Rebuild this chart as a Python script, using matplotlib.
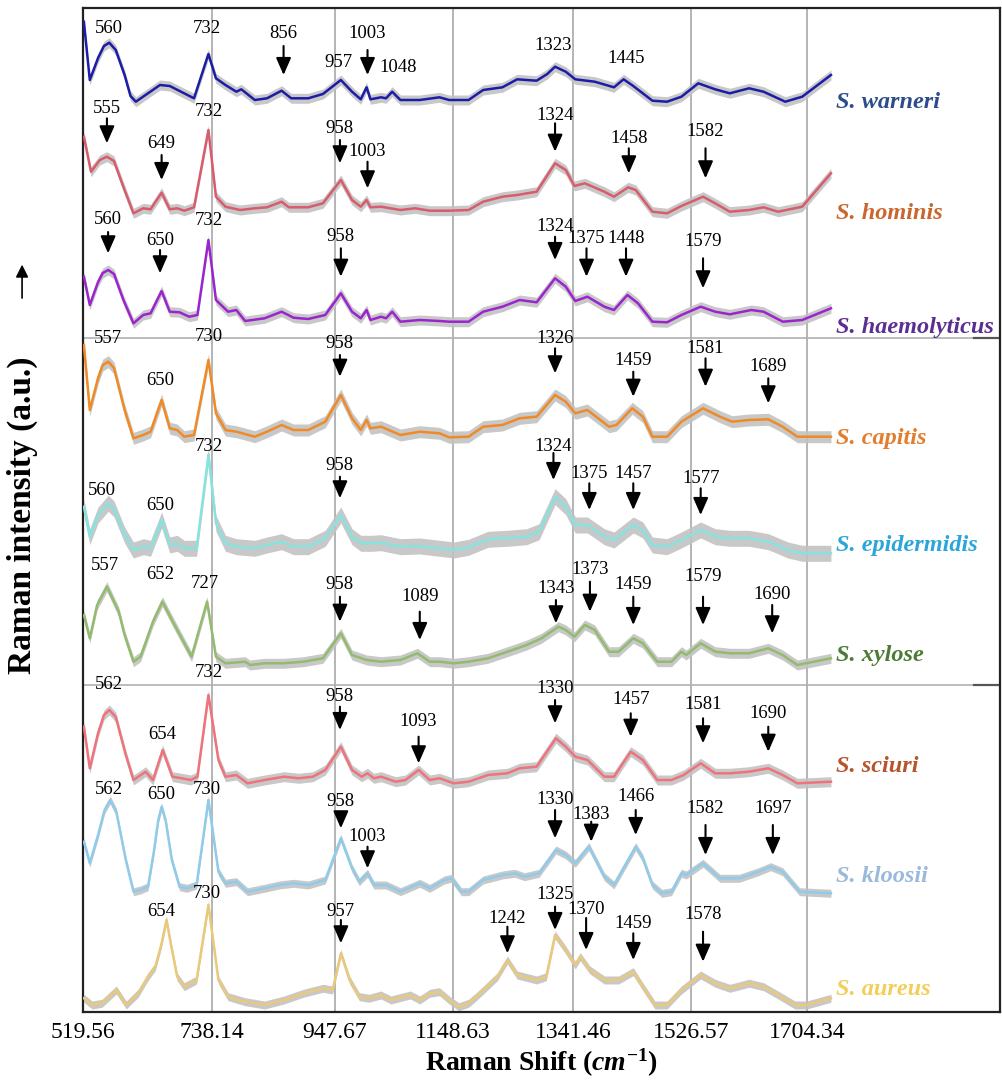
import matplotlib.pyplot as plt
import numpy as np
from matplotlib.patches import FancyArrowPatch

plt.rcParams['font.family'] = 'Liberation Serif'
plt.rcParams['mathtext.fontset'] = 'custom'
plt.rcParams['mathtext.it'] = 'Liberation Serif:italic:bold'
plt.rcParams['mathtext.rm'] = 'Liberation Serif:bold'

# x axis tick values (Raman shift, cm-1)
tick_shift = [519.56, 738.14, 947.67, 1148.63, 1341.46, 1526.57, 1704.34]

species = ['S. warneri', 'S. hominis', 'S. haemolyticus', 'S. capitis', 'S. epidermidis',
           'S. xylose', 'S. sciuri', 'S. kloosii', 'S. aureus']
line_colors = ['#1c1ca6', '#d95c6c', '#9c24cf', '#f08a26', '#86e3e0',
               '#93bb6e', '#ef727c', '#8fcbea', '#e9c97a']
label_colors = ['#2d4c8c', '#c9682e', '#5b2f92', '#e27d2c', '#2ba6d9',
                '#4b7b36', '#b6552b', '#9bb9db', '#f1cf58']

# mean spectra (shift, intensity in a.u.), stacked by offsets
warneri_x = [521, 531, 545, 555, 564, 575, 590, 600, 609, 650, 666.5, 707.6, 732, 744.8, 761, 779.5, 788, 811,
             831.8, 856.6, 873, 902, 927, 957.6, 976.6, 991.5, 1001.4, 1008, 1026, 1034.5, 1045, 1059, 1092, 1125.5,
             1142, 1173.6, 1197, 1228, 1251.7, 1283, 1300, 1312.6, 1329.8, 1345, 1375.5, 1405.7, 1420.8, 1436,
             1466, 1489, 1511.5, 1537.7, 1563.6, 1586, 1615.5, 1637.7, 1671, 1697, 1741]
warneri_y = [98.3, 40, 62, 74, 77.3, 70, 45, 24, 18.3, 35, 34, 21.7, 66, 41.7, 35, 28.3, 30.7, 20,
             21.7, 29.3, 21.7, 21.7, 26, 40, 28.3, 20.7, 32.7, 20.7, 22.7, 21.7, 28.3, 20, 20, 22.7,
             20, 20, 30, 32.7, 40.7, 39.3, 46, 53.3, 48.3, 40.7, 38.3, 32.7, 40.7, 34,
             19.3, 18.3, 23.3, 36.7, 30.7, 26.7, 31.7, 28.3, 18.3, 23.3, 45]

hominis_x = [521, 533, 548, 560, 572, 588, 605, 621.5, 634, 652.7, 666.5, 679, 691, 707.6, 732, 744.8, 761, 786,
             811, 831.8, 856.6, 869, 902, 927, 957.6, 976.6, 991.5, 1001.4, 1008, 1026, 1059, 1084, 1109, 1142,
             1173.6, 1197, 1228, 1251.7, 1283, 1312.6, 1329.8, 1343.7, 1360, 1390.6, 1405.7, 1428, 1439.8, 1466,
             1489, 1511.5, 1545, 1563.6, 1586, 1615.5, 1637.7, 1660, 1697, 1741]
hominis_y = [88.3, 53.3, 65, 68.3, 64, 38, 11.7, 16.7, 15.7, 32.3, 15.7, 16.7, 14.3, 17.7, 95, 28.3, 18.3, 15,
             16.7, 17.7, 23.3, 17.7, 17.7, 21.7, 45, 25, 18.3, 25, 17.7, 18.3, 15, 16.7, 14.3, 14.3,
             15, 23.3, 28.3, 30, 33.3, 61.7, 55, 39, 41.7, 33.3, 28.3, 37.7, 35, 13.3,
             11.7, 19, 28.3, 21.7, 13.3, 15, 17.7, 13.3, 18.3, 51.7]

haemolyticus_x = [521, 531, 545, 553, 562.3, 572, 588, 605, 621.5, 634, 652.7, 666.5, 683, 699.4, 713.4, 732, 744.8,
                  765.5, 779.5, 794.5, 827.6, 856.6, 877, 902, 931, 957.6, 976.6, 991.5, 1001.4, 1008, 1026, 1034.5,
                  1045, 1059, 1092, 1125.5, 1142, 1173.6, 1197, 1228, 1255.6, 1283, 1312.6, 1329.8, 1345, 1364,
                  1390.6, 1405.7, 1426.8, 1443.4, 1466, 1489, 1511.5, 1541.4, 1563.6, 1586, 1619, 1637.7, 1667.3,
                  1697, 1741]
haemolyticus_y = [63.3, 35, 58, 67, 70, 66, 40, 16.7, 25, 26.7, 49, 28.3, 27.7, 23.3, 25, 100, 40,
                  28.3, 30, 19, 21.7, 28.3, 22.3, 21, 25, 46.7, 28.3, 21.7, 30, 20, 23.3, 21.7,
                  28.3, 18.3, 20, 19, 18.3, 18.3, 28.3, 33.3, 40, 37.7, 61.7, 53.3, 39, 43.3,
                  33.3, 30, 45, 36.7, 18.3, 17.7, 25, 33.3, 28.3, 25.7, 30, 28.3, 18.3,
                  20, 31.7]

capitis_x = [521, 531, 545, 553, 562.3, 572, 590, 605, 621.5, 634, 652.7, 666.5, 679, 691, 707.6, 732, 744.8, 761,
             779.5, 811, 831.8, 856.6, 877, 902, 931, 957.6, 976.6, 991.5, 1001.4, 1008, 1026, 1059, 1092, 1125.5,
             1142, 1173.6, 1197, 1228, 1255.6, 1283, 1312.6, 1329.8, 1345, 1364, 1398, 1409.5, 1434.4, 1451, 1466,
             1489, 1511.5, 1545, 1571, 1589.5, 1615.5, 1645, 1667, 1689.5, 1741]
capitis_y = [105, 40, 72, 85, 88.3, 82, 40, 11.7, 15, 18.3, 50, 21.7, 20, 13.3, 15, 90, 36.7, 20,
             18.3, 13.3, 18.3, 25, 20, 20, 28.3, 55, 31.7, 20, 30, 21.7, 23.3, 15, 18.3, 16.7,
             12.7, 13.3, 23.3, 25, 31.7, 33.3, 55, 48.3, 36.7, 40, 23.3, 25, 41.7, 33.3, 13.3,
             13.3, 28.3, 41.7, 33.3, 28.3, 30, 30.7, 23.3, 13.3, 13.3]

epidermidis_x = [521, 531, 545, 562.3, 572, 590, 605, 621.5, 634, 652.7, 666.5, 679, 691, 712, 732, 744.8, 761,
                 779.5, 811, 831.8, 856.6, 877, 902, 931, 957.6, 976.6, 991.5, 1009.7, 1026, 1059, 1092, 1125.5,
                 1150, 1173.6, 1204.8, 1236, 1267, 1287, 1312.6, 1329.8, 1345, 1364, 1390.6, 1405.7, 1436, 1451,
                 1466, 1489, 1511.5, 1541.4, 1563.6, 1586, 1615.5, 1645, 1675, 1697, 1741]
epidermidis_y = [58.3, 28.3, 50, 61.7, 56, 30, 15, 18.3, 16.7, 45, 20, 21.7, 16.7, 16.7, 110, 41.7, 21.7,
                 18.3, 16.7, 20, 23.3, 18.3, 18.3, 26.7, 50, 28.3, 21.7, 21.7, 22.3, 18.3, 19, 16.7,
                 15, 17.7, 25.7, 26.7, 28.3, 33.3, 68.3, 58.3, 40, 40, 28.3, 25, 40, 35,
                 20, 18.3, 25, 35, 28.3, 26.7, 26.7, 23.3, 15, 11.7, 11.7]

xylose_x = [521, 531, 543.4, 560, 580, 590, 605, 617, 638, 654, 674.6, 703.4, 729.7, 744.8, 761, 794.5, 802.8,
            827.6, 860.7, 893.8, 927, 957.6, 976.6, 1001.4, 1026, 1059, 1088, 1109, 1125.5, 1150, 1173.6, 1204.8,
            1236, 1267, 1290.7, 1318, 1329.8, 1343.7, 1360, 1375.5, 1398, 1413, 1436, 1451, 1473.6, 1496, 1511.5,
            1519, 1541.4, 1563.6, 1586, 1615.5, 1645, 1667, 1689.5, 1741]
xylose_y = [65, 41.7, 75, 93.3, 68.3, 45, 18.3, 23.3, 58.3, 78.3, 55, 23.3, 78.3, 23.3, 16.7, 18.3, 15,
            16.7, 16.7, 18.3, 21.7, 46.7, 25, 20, 18.3, 20, 26.7, 18.3, 18.3, 16.7, 18.3, 21.7,
            28.3, 35, 41.7, 53.3, 50, 43.3, 55, 50, 28.3, 28.3, 41.7, 36.7, 18.3, 18.3, 28.3,
            25, 36.7, 28.3, 26.7, 26.7, 31.7, 25, 15, 21.7]

sciuri_x = [521, 531, 545, 555, 564, 575, 592, 605, 625.6, 638, 654.5, 671, 687, 702, 713.4, 732, 749, 761, 779.5,
            798.6, 827.6, 860.7, 885.5, 910, 931, 957.6, 976.6, 993, 1003, 1013.8, 1026, 1051, 1067.6, 1090, 1109,
            1125.5, 1150, 1173.6, 1204.8, 1236, 1255.6, 1283, 1314, 1329.8, 1345, 1364, 1390.6, 1405.7, 1432, 1451,
            1473.6, 1496, 1515, 1541.4, 1563.6, 1586, 1615.5, 1645, 1667, 1689.5, 1741]
sciuri_y = [68.3, 26.7, 62, 80, 85, 78, 40, 15, 23.3, 15, 45, 18.3, 16.7, 15, 18.3, 100, 35, 18.3, 20,
            11.7, 15, 18.3, 16.7, 18.3, 25, 48.3, 25, 18.3, 21.7, 16.7, 18.3, 13.3, 15, 25, 15,
            16.7, 11.7, 13.3, 20, 21.7, 26.7, 28.3, 56.7, 48.3, 38.3, 35, 18.3, 18.3, 43.3, 35,
            15, 15, 20, 31.7, 21.7, 21.7, 23.3, 26.7, 20, 11.7, 13.3]

kloosii_x = [521, 531, 545, 556, 565.6, 576, 592, 605, 617, 629.7, 640, 647, 652.7, 660, 670, 683, 695.4, 712, 732,
             749, 761, 779.5, 798.6, 827.6, 852.4, 877, 902, 931, 957.6, 976.6, 989, 1003, 1013.8, 1034.5, 1059,
             1092, 1109, 1133.7, 1146, 1161.9, 1173.6, 1197, 1228, 1247.8, 1263.4, 1287, 1314, 1329.8, 1345,
             1366.4, 1390.6, 1405.7, 1439.8, 1451, 1466, 1481, 1496, 1511.5, 1519, 1545, 1571, 1600.6, 1630,
             1648.7, 1667, 1693, 1741]
kloosii_y = [58.3, 36.7, 65, 90, 100, 88, 40, 8.3, 10, 13.3, 50, 80, 93.3, 78, 40, 13.3, 11.7, 15, 100,
             28.3, 16.7, 18.3, 8.3, 11.7, 15, 16.7, 15, 20, 61.7, 31.7, 18.3, 26.7, 15, 15, 8.3,
             16.7, 11.7, 20, 21.7, 8.3, 8.3, 20, 25, 26.7, 23.3, 26.7, 50, 45, 36.7,
             53.3, 23.3, 15, 53.3, 41.7, 15, 6.7, 8.3, 26.7, 25, 36.7, 21.7, 21.7, 28.3,
             33.3, 28.3, 8.3, 6.7]

aureus_x = [521, 535, 551.6, 576, 592.7, 613, 629.7, 642, 652, 661, 668, 679, 691, 712, 732, 749, 765.5, 794.5,
            827.6, 860.7, 893.8, 927, 943.5, 957.6, 972.5, 989, 1005.6, 1026, 1042.8, 1076, 1092, 1109, 1125.5,
            1142, 1158, 1173.6, 1189, 1220, 1236, 1251.7, 1283, 1298.5, 1312.6, 1329.8, 1345, 1352.8, 1368,
            1390.6, 1413, 1436, 1451, 1470, 1489, 1511.5, 1541.4, 1563.6, 1586, 1615.5, 1637.7, 1660, 1686,
            1704, 1741]
aureus_y = [16.7, 10, 11.7, 25, 10, 21.7, 38.3, 48.3, 70, 95, 72, 38.3, 28.3, 35, 110, 35, 18.3, 13.3,
            10, 15, 21.7, 26.7, 25, 61.7, 35, 18.3, 16.7, 20, 15, 20, 15, 21.7, 23.3,
            15, 8.3, 11.7, 20, 38.3, 55, 40, 35, 38.3, 80, 65, 50, 58.3, 45,
            35, 35, 43.3, 28.3, 10, 10, 25, 40, 31.7, 26.7, 31.7, 28.3, 20, 10,
            10, 16.7]

spec_x = [warneri_x, hominis_x, haemolyticus_x, capitis_x, epidermidis_x, xylose_x, sciuri_x, kloosii_x, aureus_x]
spec_y = [warneri_y, hominis_y, haemolyticus_y, capitis_y, epidermidis_y, xylose_y, sciuri_y, kloosii_y, aureus_y]
offsets = [892, 787, 672, 562, 447, 332, 217, 112, -3]
spread = [5, 5, 5, 6, 8, 5, 5, 4, 4]
label_y = [910, 799, 685, 574, 467, 356, 245, 135, 22]

# peak labels: (text, shift, text height, arrow start, arrow tip)
warneri_peaks = [('560', 564, 92, None, None), ('732', 730, 92, None, None), ('856', 860, 87, 74, 45),
                 ('957', 953, 58, None, None), ('1003', 1003, 87, 70, 45), ('1048', 1055, 53, None, None),
                 ('1323', 1310, 75, None, None), ('1445', 1425, 62, None, None)]
hominis_peaks = [('555', 560, 116.7, 106.7, 81.7), ('649', 652.7, 81.7, 70, 45), ('732', 732, 113.3, None, None),
                 ('958', 956, 96.7, 85, 61.7), ('1003', 1003, 73.3, 63.3, 36.7), ('1324', 1312.6, 110, 101.7, 73.3),
                 ('1458', 1429, 86.7, 76.7, 51.7), ('1582', 1548.8, 93.3, 76.7, 46.7)]
haemolyticus_peaks = [('560', 562, 121, 108, 86.7), ('650', 650, 100, 90, 66.7), ('732', 732, 120, None, None),
                      ('958', 957.6, 103.3, 91.7, 63.3), ('1324', 1312.6, 113.3, 103.3, 80),
                      ('1375', 1362.6, 101.7, 91.7, 63.3), ('1448', 1424.6, 101.7, 91.7, 63.3),
                      ('1579', 1545, 98.3, 81.7, 51.7)]
capitis_peaks = [('557', 562, 111.7, None, None), ('650', 650, 70, None, None), ('730', 732, 113.3, None, None),
                 ('958', 956, 106.7, 95, 73.3), ('1326', 1312.6, 111.7, 101.7, 76.7), ('1459', 1436, 90, 78.3, 53.3),
                 ('1581', 1548.8, 101.7, 91.7, 63.3), ('1689', 1645, 83.3, 71.7, 46.7)]
epidermidis_peaks = [('560', 552, 75, None, None), ('650', 650, 60, None, None), ('732', 732, 119, None, None),
                     ('958', 956, 100, 88.3, 66.7), ('1324', 1310, 119, 112, 85), ('1375', 1367, 91.7, 81.7, 55),
                     ('1457', 1436, 91.7, 81.7, 55), ('1577', 1541.4, 86.7, 76.7, 50)]
xylose_peaks = [('557', 556, 115, None, None), ('652', 650, 105, None, None), ('727', 726, 96.7, None, None),
                ('958', 956, 95, 83.3, 58.3), ('1089', 1092, 83.3, 68.3, 40), ('1343', 1314, 91.7, 80, 56.7),
                ('1373', 1368, 110, 98.3, 68.3), ('1459', 1436, 95, 83.3, 55), ('1579', 1545, 103.3, 83.3, 55),
                ('1690', 1651, 85, 75, 46.7)]
sciuri_peaks = [('562', 564, 110, None, None), ('732', 732, 122, None, None), ('654', 654.5, 60, None, None),
                ('958', 956, 98.3, 88.3, 65), ('1093', 1090, 73.3, 58.3, 31.7), ('1330', 1312.6, 106.7, 95, 71.7),
                ('1457', 1432, 95, 81.7, 58.3), ('1581', 1545, 90, 76.7, 51.7), ('1690', 1645, 81.7, 68.3, 43.3)]
kloosii_peaks = [('562', 564, 110, None, None), ('650', 652.7, 105, None, None), ('730', 729.7, 110, None, None),
                 ('958', 957.6, 98.3, 86.7, 71.7), ('1003', 1003, 63.3, 53.3, 31.7), ('1330', 1312.6, 100, 90, 61.7),
                 ('1383', 1370, 85, 78.3, 58.3), ('1466', 1439.8, 103.3, 90, 65), ('1582', 1548.8, 91.7, 75, 45),
                 ('1697', 1652, 91.7, 75, 45)]
aureus_peaks = [('654', 652.7, 103.3, None, None), ('730', 729.7, 121.7, None, None), ('957', 957.6, 103.3, 95, 71.7),
                ('1242', 1236, 96.7, 88.3, 61.7), ('1325', 1312.6, 120, 108.3, 85), ('1370', 1362, 105, 97, 65),
                ('1459', 1436, 91.7, 81.7, 55), ('1578', 1545, 100, 83.3, 53.3)]
peaks = [warneri_peaks, hominis_peaks, haemolyticus_peaks, capitis_peaks, epidermidis_peaks,
         xylose_peaks, sciuri_peaks, kloosii_peaks, aureus_peaks]

# axis is not linear in shift: ticks are nearly evenly spaced
scale_shift = [400] + tick_shift + [2000, 2300]
scale_pos = [12.4, 83, 212, 335, 453, 573, 691, 807, 1000, 1196]


def fwd(x):
    return np.interp(x, scale_shift, scale_pos)


def inv(p):
    return np.interp(p, scale_pos, scale_shift)


fig = plt.figure(figsize=(10.03, 10.82), dpi=100)
ax = fig.add_axes([0.0828, 0.0647, 0.9142, 0.9279])
ax.set_xscale('function', functions=(fwd, inv))
ax.set_xlim(519.56, 2000)
ax.set_ylim(0, 1004)

for t in tick_shift[1:]:
    ax.axvline(t, color='#a8a8a8', lw=1.2, zorder=1)
for h in [674, 327]:
    ax.axhline(h, color='#b0b0b0', lw=1.2, zorder=1)
    ax.plot([1960, 2000], [h, h], color='#555555', lw=1.6, zorder=1)

for i in range(len(species)):
    x = np.array(spec_x[i])
    y = np.array(spec_y[i]) + offsets[i]
    ax.fill_between(x, y - spread[i], y + spread[i], color='#c2c2c2', alpha=0.9, lw=0, zorder=2)
    ax.plot(x, y, color=line_colors[i], lw=1.8, zorder=3)
    ax.text(1748, label_y[i], species[i], color=label_colors[i], fontsize=17.5,
            fontweight='bold', fontstyle='italic', ha='left', va='center')
    for txt, px, ty, a0, a1 in peaks[i]:
        ax.text(px, offsets[i] + ty, txt, fontsize=13.5, ha='center', va='center', zorder=5)
        if a0 is not None:
            ax.annotate('', xy=(px, offsets[i] + a1), xytext=(px, offsets[i] + a0),
                        arrowprops=dict(arrowstyle='-|>,head_length=0.8,head_width=0.35', color='black',
                                        lw=1.5, shrinkA=0, shrinkB=0, mutation_scale=13), zorder=5)

ax.set_xticks(tick_shift)
ax.set_xticklabels([f'{t:.2f}' for t in tick_shift], fontsize=17)
ax.tick_params(axis='x', length=0, pad=7)
ax.set_yticks([])
for s in ax.spines.values():
    s.set_linewidth(1.6)
    s.set_color('#222222')

fig.text(0.54, 0.018, r'Raman Shift ($cm^{-1}$)', fontsize=20, fontweight='bold', ha='center', va='center')
fig.text(0.022, 0.524, 'Raman intensity (a.u.)', fontsize=24, fontweight='bold', rotation=90,
         ha='center', va='center')
fig.add_artist(FancyArrowPatch((0.022, 0.722), (0.022, 0.758), transform=fig.transFigure,
                               arrowstyle='-|>,head_length=0.5,head_width=0.25',
                               mutation_scale=15, color='black', lw=1.2))

fig.savefig('out.png', dpi=100)
